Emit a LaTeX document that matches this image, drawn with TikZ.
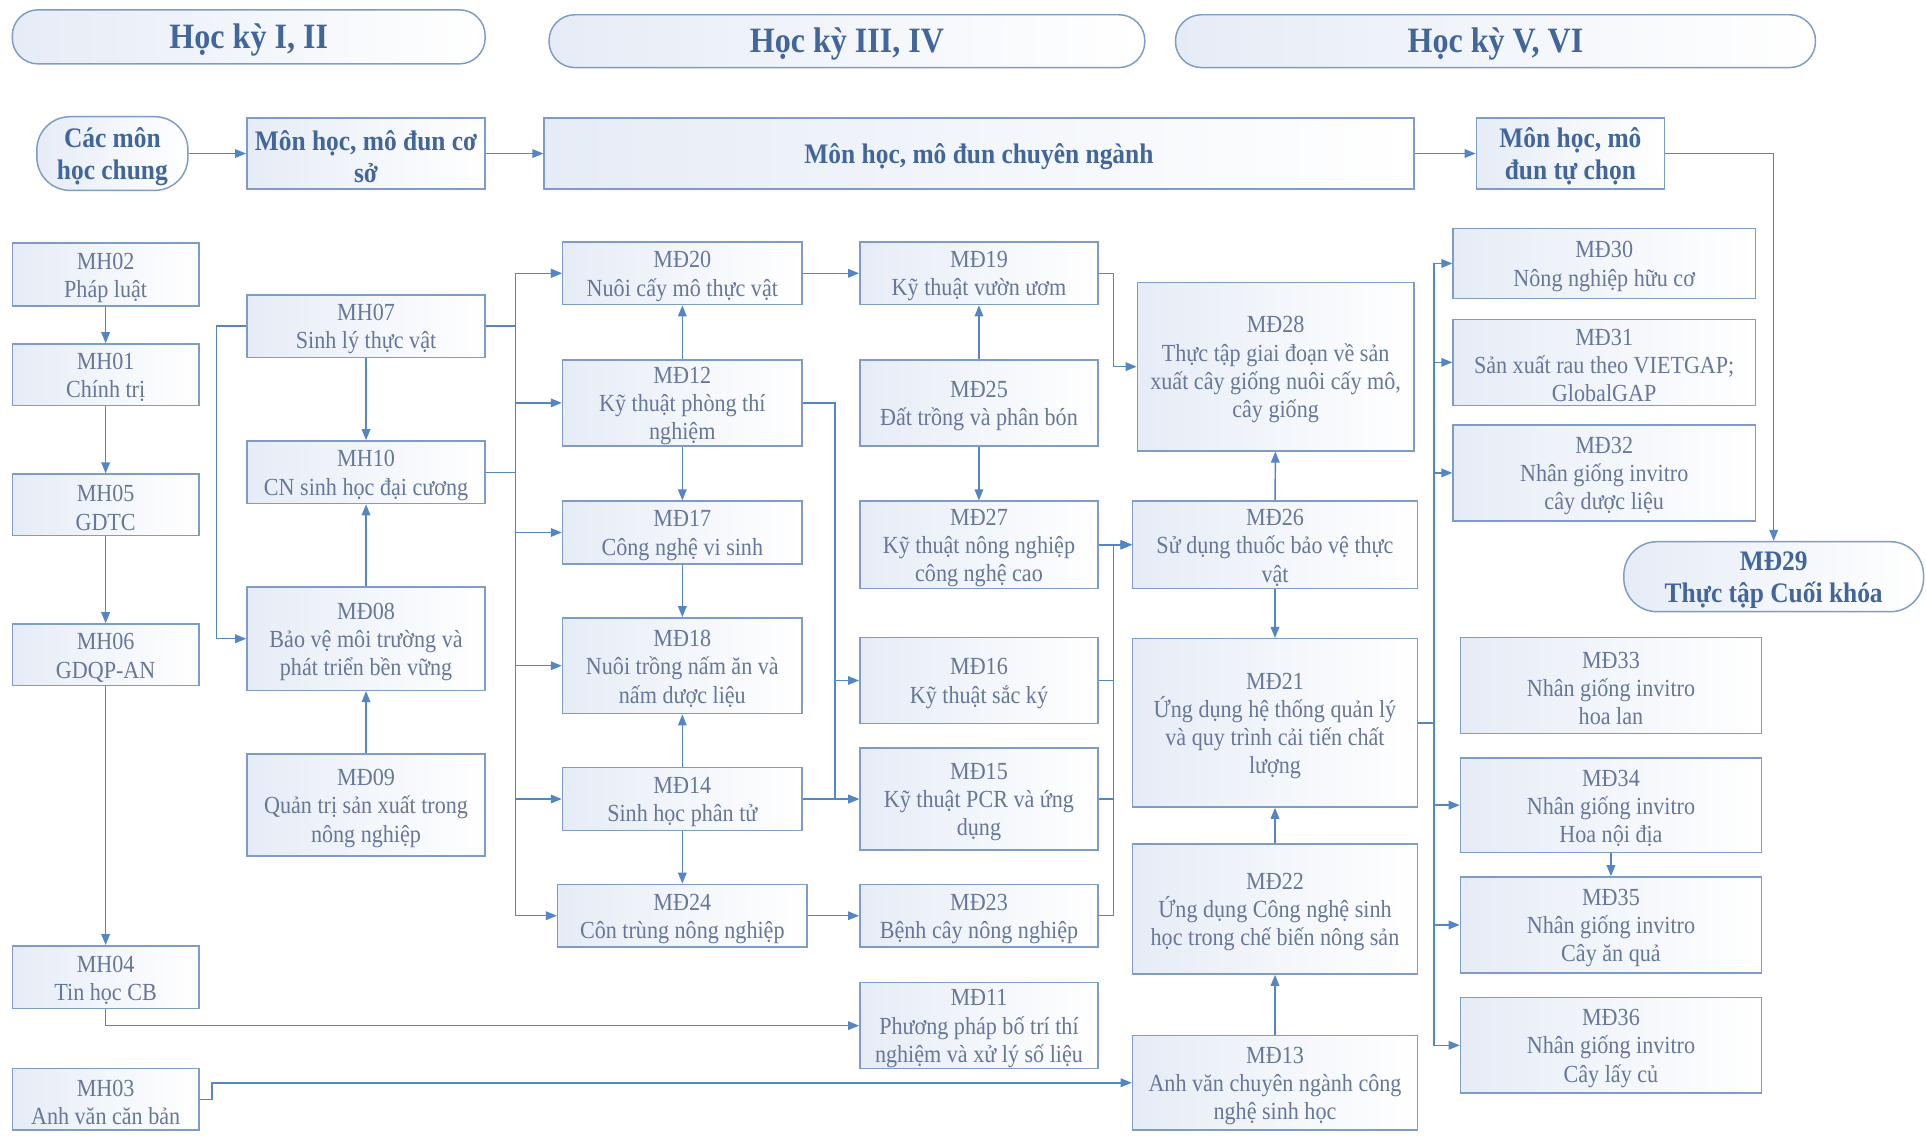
\documentclass[tikz,border=0pt]{standalone}
\usepackage{fontspec}
\setmainfont{Liberation Serif}[FakeStretch=0.9]
\usetikzlibrary{arrows.meta}
\definecolor{bline}{RGB}{126,156,200}
\definecolor{bfill}{RGB}{230,236,246}
\definecolor{btext}{RGB}{102,119,152}
\definecolor{htext}{RGB}{66,102,154}
\definecolor{aline}{RGB}{84,134,196}
\tikzset{
  cbox/.style={draw=bline, line width=1.2pt, left color=bfill, right color=white,
    inner sep=0pt},
  txt/.style={inner sep=0pt, align=center, text=btext, font=\fontsize{20}{23}\selectfont},
  htxt/.style={txt, text=htext, font=\fontsize{23}{26}\selectfont\bfseries},
  headtxt/.style={txt, text=htext, font=\fontsize{29}{32}\selectfont\bfseries},
  hbox/.style={cbox},
  pillbox/.style={cbox, rounded corners=27pt},
  headbox/.style={cbox, rounded corners=21pt},
  arr/.style={draw=aline, line width=1.2pt, -{Triangle[length=9pt,width=7pt]}},
}
% [box style], name, text, x1, x2, y1, y2, [text style via \bxt]
\newcommand{\bxg}[8]{\node[#1, minimum width={#5-#4}, minimum height={#7-#6}] (#2) at ({(#4+#5)/2},{(#6+#7)/2}) {};
  \node[#8] at ([yshift=-2.5pt]#2.center) {#3};}
\newcommand{\bx}[6]{\bxg{cbox}{#1}{#2}{#3}{#4}{#5}{#6}{txt}}
\begin{document}
\begin{tikzpicture}[x=1pt,y=-1pt]
\useasboundingbox[fill=white] (0,0) rectangle (1568,926);
% headers
\bxg{headbox}{h1}{Học kỳ I, II}{10}{395}{8}{52}{headtxt}
\bxg{headbox}{h2}{Học kỳ III, IV}{447}{932}{12}{55}{headtxt}
\bxg{headbox}{h3}{Học kỳ V, VI}{957}{1478}{12}{55}{headtxt}
% top row
\bxg{pillbox}{chung}{Các môn\\học chung}{30}{153}{95}{155}{htxt}
\bxg{hbox}{coso}{Môn học, mô đun cơ\\sở}{201}{395}{96}{154}{htxt}
\bxg{hbox}{chuyen}{Môn học, mô đun chuyên ngành}{443}{1151}{96}{154}{htxt}
\bxg{hbox}{tuchon}{Môn học, mô\\đun tự chọn}{1202}{1355}{96}{154}{htxt}
% column 1
\bx{mh02}{MH02\\Pháp luật}{10}{162}{198}{249}
\bx{mh01}{MH01\\Chính trị}{10}{162}{280}{330}
\bx{mh05}{MH05\\GDTC}{10}{162}{386}{436}
\bx{mh06}{MH06\\GDQP-AN}{10}{162}{508}{558}
\bx{mh04}{MH04\\Tin học CB}{10}{162}{770}{821}
\bx{mh03}{MH03\\Anh văn căn bản}{10}{162}{870}{920}
% column 2
\bx{mh07}{MH07\\Sinh lý thực vật}{201}{395}{240}{291}
\bx{mh10}{MH10\\CN sinh học đại cương}{201}{395}{359}{410}
\bx{md08}{MĐ08\\Bảo vệ môi trường và\\phát triển bền vững}{201}{395}{478}{562}
\bx{md09}{MĐ09\\Quản trị sản xuất trong\\nông nghiệp}{201}{395}{614}{697}
% column 3
\bx{md20}{MĐ20\\Nuôi cấy mô thực vật}{458}{653}{197}{248}
\bx{md12}{MĐ12\\Kỹ thuật phòng thí\\nghiệm}{458}{653}{293}{363}
\bx{md17}{MĐ17\\Công nghệ vi sinh}{458}{653}{408}{459}
\bx{md18}{MĐ18\\Nuôi trồng nấm ăn và\\nấm dược liệu}{458}{653}{503}{581}
\bx{md14}{MĐ14\\Sinh học phân tử}{458}{653}{625}{676}
\bx{md24}{MĐ24\\Côn trùng nông nghiệp}{454}{657}{720}{771}
% column 4
\bx{md19}{MĐ19\\Kỹ thuật vườn ươm}{700}{894}{197}{248}
\bx{md25}{MĐ25\\Đất trồng và phân bón}{700}{894}{293}{363}
\bx{md27}{MĐ27\\Kỹ thuật nông nghiệp\\công nghệ cao}{700}{894}{408}{479}
\bx{md16}{MĐ16\\Kỹ thuật sắc ký}{700}{894}{519}{589}
\bx{md15}{MĐ15\\Kỹ thuật PCR và ứng\\dụng}{700}{894}{609}{692}
\bx{md23}{MĐ23\\Bệnh cây nông nghiệp}{700}{894}{720}{771}
\bx{md11}{MĐ11\\Phương pháp bố trí thí\\nghiệm và xử lý số liệu}{700}{894}{800}{870}
% column 5
\bx{md28}{MĐ28\\Thực tập giai đoạn về sản\\xuất cây giống nuôi cấy mô,\\cây giống}{926}{1151}{230}{367}
\bx{md26}{MĐ26\\Sử dụng thuốc bảo vệ thực\\vật}{922}{1154}{408}{479}
\bx{md21}{MĐ21\\Ứng dụng hệ thống quản lý\\và quy trình cải tiến chất\\lượng}{922}{1154}{520}{657}
\bx{md22}{MĐ22\\Ứng dụng Công nghệ sinh\\học trong chế biến nông sản}{922}{1154}{687}{793}
\bx{md13}{MĐ13\\Anh văn chuyên ngành công\\nghệ sinh học}{922}{1154}{843}{920}
% column 6
\bx{md30}{MĐ30\\Nông nghiệp hữu cơ}{1183}{1429}{186}{243}
\bx{md31}{MĐ31\\Sản xuất rau theo VIETGAP;\\GlobalGAP}{1183}{1429}{260}{330}
\bx{md32}{MĐ32\\Nhân giống invitro\\cây dược liệu}{1183}{1429}{346}{424}
\bxg{pillbox}{md29}{MĐ29\\Thực tập Cuối khóa}{1322}{1566}{441}{498}{htxt}
\bx{md33}{MĐ33\\Nhân giống invitro\\hoa lan}{1189}{1434}{519}{597}
\bx{md34}{MĐ34\\Nhân giống invitro\\Hoa nội địa}{1189}{1434}{617}{694}
\bx{md35}{MĐ35\\Nhân giống invitro\\Cây ăn quả}{1189}{1434}{714}{792}
\bx{md36}{MĐ36\\Nhân giống invitro\\Cây lấy củ}{1189}{1434}{812}{890}
% connectors: top row
\draw[arr] (chung) -- (coso);
\draw[arr] (coso) -- (chuyen);
\draw[arr] (chuyen) -- (tuchon);
\draw[arr] (tuchon.east) -| (md29.north);
% column 1
\draw[arr] (mh02) -- (mh01);
\draw[arr] (mh01) -- (mh05);
\draw[arr] (mh05) -- (mh06);
\draw[arr] (mh06) -- (mh04);
\draw[arr] (mh04.south) |- (md11.west);
\draw[arr] (mh03.east) -- ++(10,0) |- (md13.west);
% column 2
\draw[arr] (mh07) -- (mh10);
\draw[arr] (md08) -- (mh10);
\draw[arr] (md09) -- (md08);
\draw[arr] (mh07.west) -- ++(-24,0) |- (md08.west);
\draw[arr] (mh07.east) -- ++(24,0) |- (md20.west);
\foreach \t in {md20,md12,md17,md18,md14,md24}
  \draw[arr] (mh10.east) -- ++(24,0) |- (\t.west);
% column 3
\draw[arr] (md12) -- (md20);
\draw[arr] (md12) -- (md17);
\draw[arr] (md17) -- (md18);
\draw[arr] (md14) -- (md18);
\draw[arr] (md14) -- (md24);
\draw[arr] (md20) -- (md19);
\draw[arr] (md24) -- (md23);
\draw[arr] (md14) -- (md15);
\draw[arr] (md12.east) -- ++(26,0) |- (md16.west);
\draw[arr] (md12.east) -- ++(26,0) |- (md15.west);
% column 4
\draw[arr] (md25) -- (md19);
\draw[arr] (md25) -- (md27);
\draw[arr] (md19.east) -- ++(12,0) |- (md28.west);
\draw[arr] (md27) -- (md26);
\draw[arr] (md16.east) -- ++(12,0) |- (md26.west);
\draw[arr] (md15.east) -- ++(12,0) |- (md26.west);
\draw[arr] (md23.east) -- ++(12,0) |- (md26.west);
% column 5
\draw[arr] (md26) -- (md28);
\draw[arr] (md26) -- (md21);
\draw[arr] (md22) -- (md21);
\draw[arr] (md13) -- (md22);
\foreach \t in {md30,md31,md32,md34,md35,md36}
  \draw[arr] (md21.east) -- ++(13,0) |- (\t.west);
% column 6
\draw[arr] (md34) -- (md35);
\end{tikzpicture}
\end{document}
